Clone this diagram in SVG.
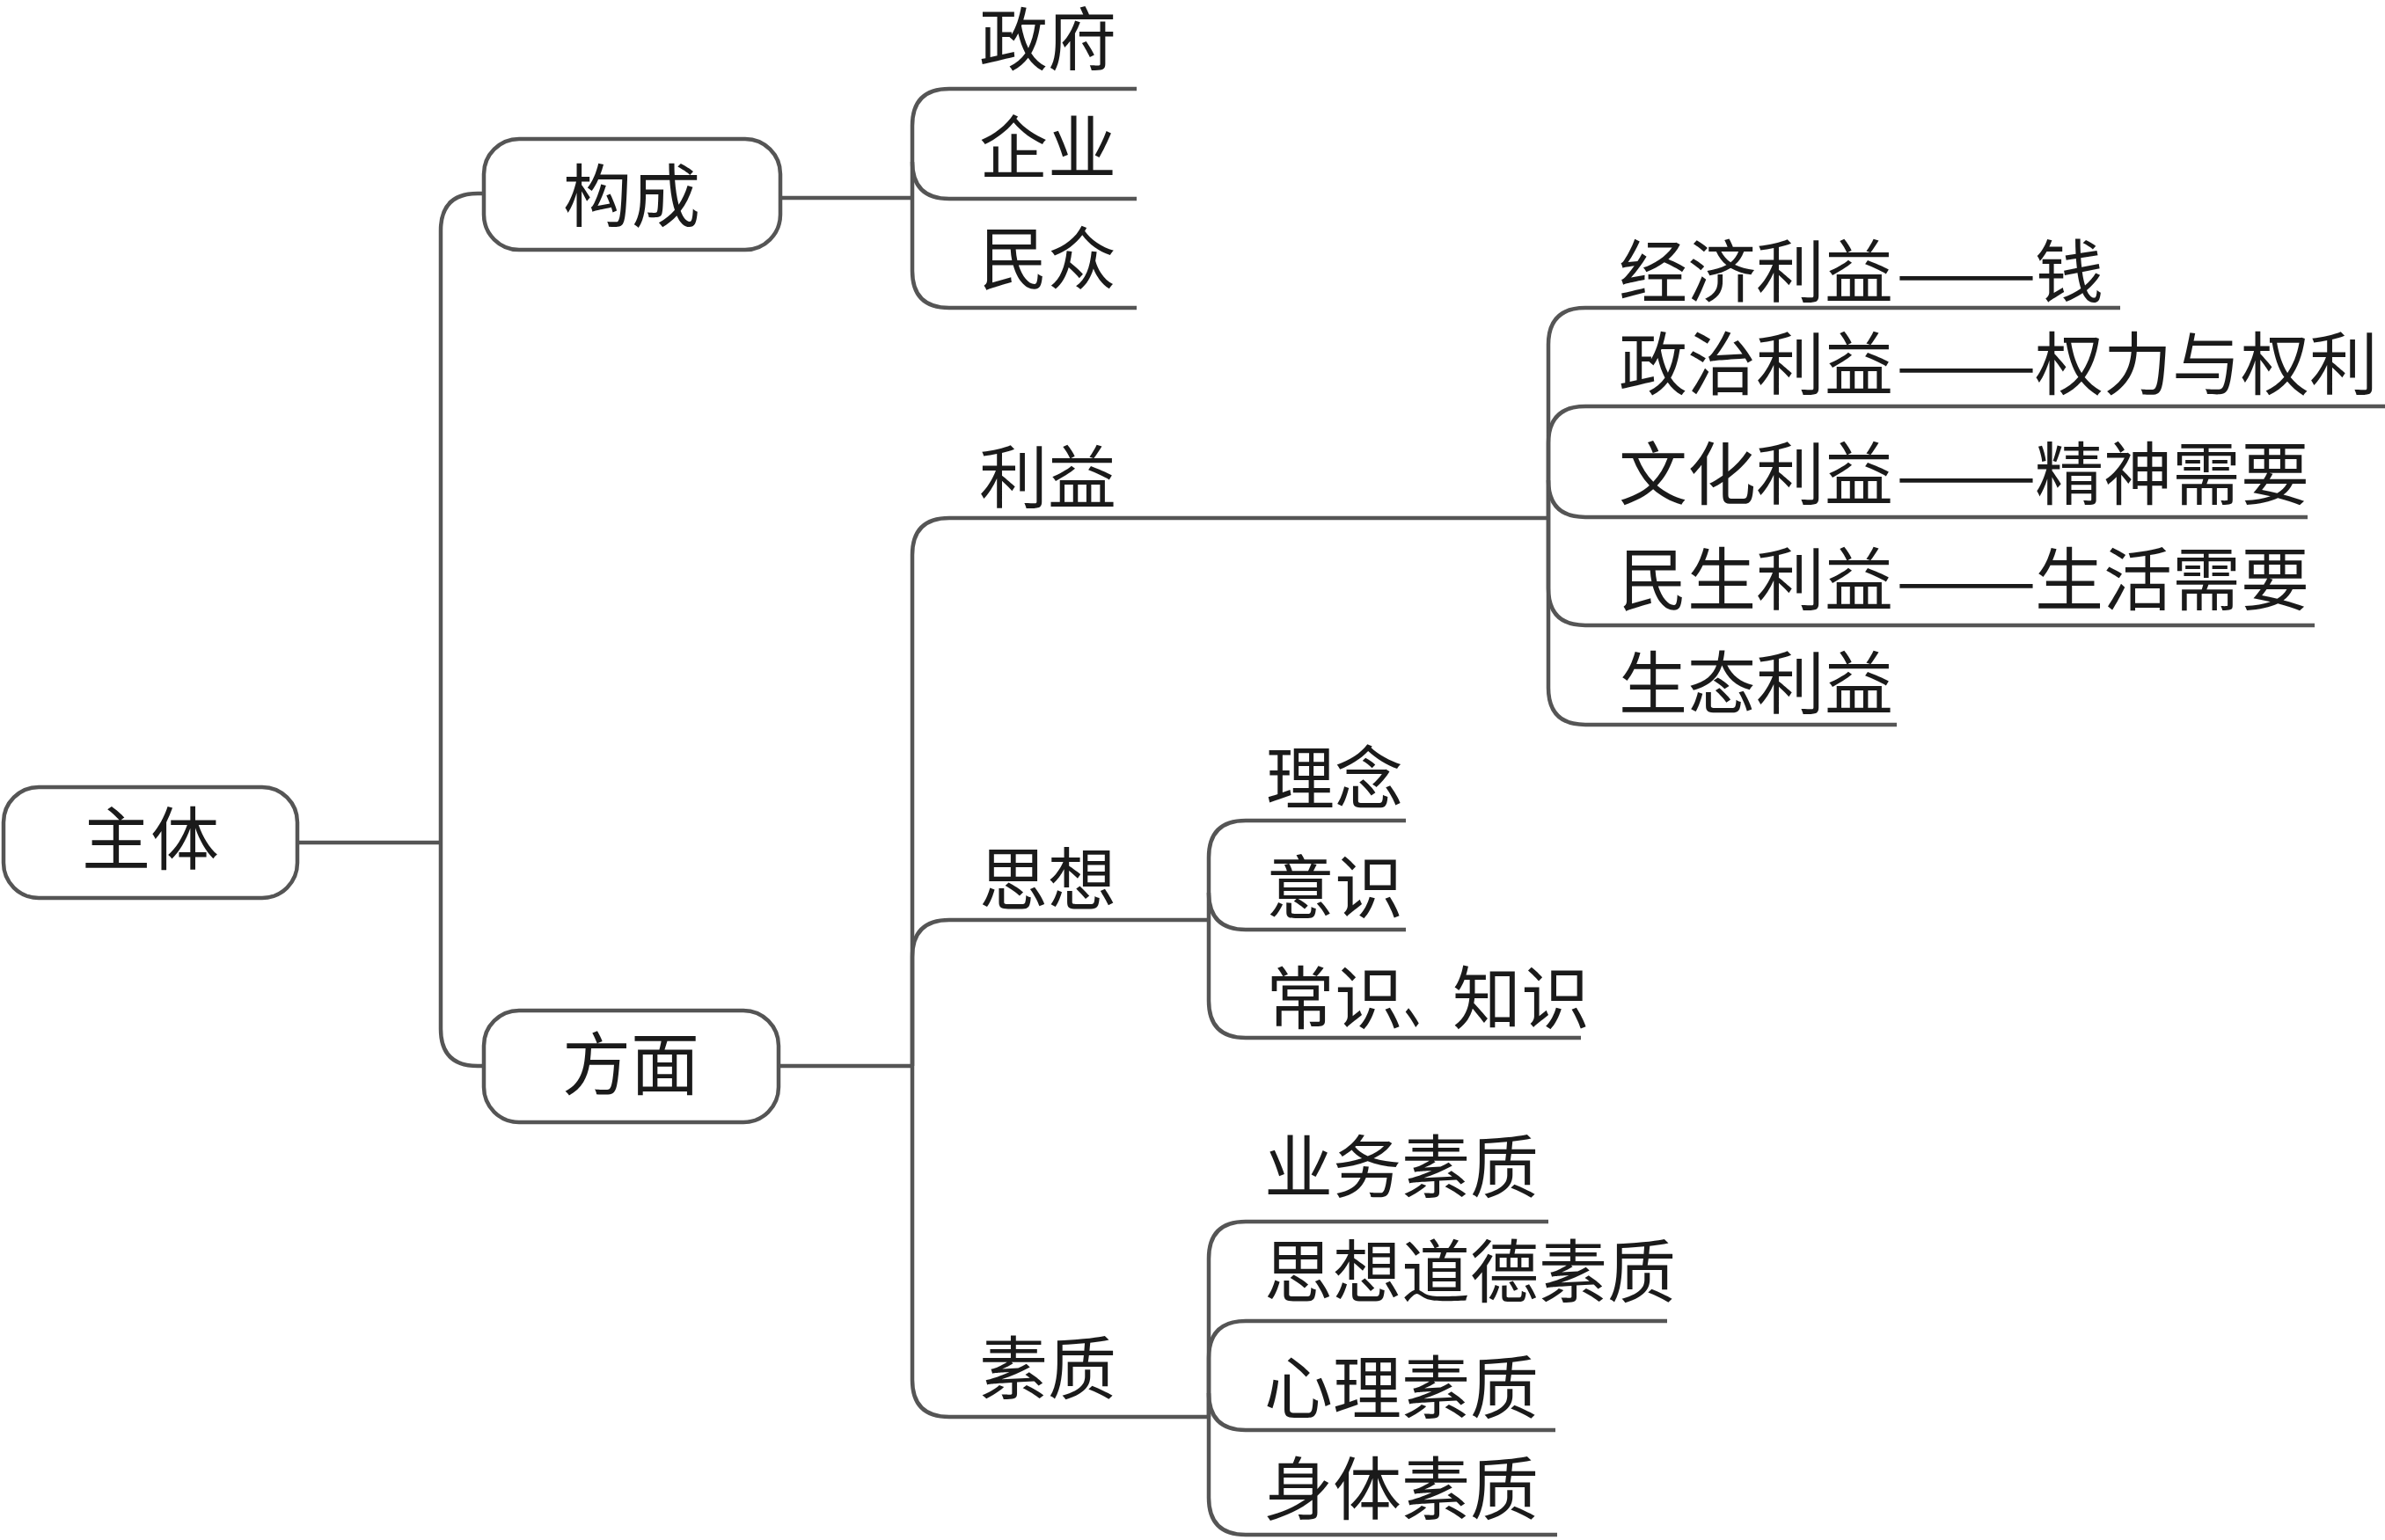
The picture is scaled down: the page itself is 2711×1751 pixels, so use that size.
<svg xmlns="http://www.w3.org/2000/svg" width="2711" height="1751" viewBox="0 0 2711 1751">
<style>
.ln{fill:none;stroke:#555555;stroke-width:4.5;stroke-linecap:butt;stroke-linejoin:round}
.box{fill:#ffffff;stroke:#555555;stroke-width:4.5}
.t{font-family:"Noto Sans CJK SC","Noto Sans CJK JP",sans-serif;font-size:78px;fill:#1a1a1a}
.c{text-anchor:middle}
</style>
<rect width="2711" height="1751" fill="#ffffff"/>
<g id="connectors">
<path class="ln" d="M338,958 H501"/>
<path class="ln" d="M501,958 V262 Q501,220 543,220 H550"/>
<path class="ln" d="M501,958 V1170 Q501,1212 543,1212 H550"/>
<path class="ln" d="M887,225 H1037"/>
<path class="ln" d="M1037,225 V143 Q1037,101 1079,101 H1292"/>
<path class="ln" d="M1037,184 Q1037,226 1079,226 H1292"/>
<path class="ln" d="M1037,225 V308 Q1037,350 1079,350 H1292"/>
<path class="ln" d="M885,1212 H1037"/>
<path class="ln" d="M1037,1212 V631 Q1037,589 1079,589 H1760"/>
<path class="ln" d="M1037,1212 V1088 Q1037,1046 1079,1046 H1374"/>
<path class="ln" d="M1037,1212 V1569 Q1037,1611 1079,1611 H1374"/>
<path class="ln" d="M1760,589 V392 Q1760,350 1802,350 H2410"/>
<path class="ln" d="M1760,589 V504 Q1760,462 1802,462 H2711"/>
<path class="ln" d="M1760,546 Q1760,588 1802,588 H2623"/>
<path class="ln" d="M1760,589 V669 Q1760,711 1802,711 H2631"/>
<path class="ln" d="M1760,589 V782 Q1760,824 1802,824 H2156"/>
<path class="ln" d="M1374,1046 V975 Q1374,933 1416,933 H1598"/>
<path class="ln" d="M1374,1015 Q1374,1057 1416,1057 H1598"/>
<path class="ln" d="M1374,1046 V1138 Q1374,1180 1416,1180 H1797"/>
<path class="ln" d="M1374,1611 V1431 Q1374,1389 1416,1389 H1760"/>
<path class="ln" d="M1374,1611 V1544 Q1374,1502 1416,1502 H1895"/>
<path class="ln" d="M1374,1584 Q1374,1626 1416,1626 H1768"/>
<path class="ln" d="M1374,1611 V1703 Q1374,1745 1416,1745 H1770"/>
</g>
<g id="n-zhuti"><rect class="box" x="4" y="895" width="334" height="126" rx="40"/><text class="t c" x="171" y="983">主体</text></g>
<g id="n-goucheng"><rect class="box" x="550" y="158" width="337" height="126" rx="40"/><text class="t c" x="718" y="252">构成</text></g>
<g id="n-fangmian"><rect class="box" x="550" y="1149" width="335" height="127" rx="40"/><text class="t c" x="717" y="1239">方面</text></g>
<g id="n-zhengfu"><text class="t" x="1113" y="74">政府</text></g>
<g id="n-qiye"><text class="t" x="1113" y="197">企业</text></g>
<g id="n-minzhong"><text class="t" x="1113" y="323">民众</text></g>
<g id="n-liyi"><text class="t" x="1113" y="572">利益</text></g>
<g id="n-sixiang"><text class="t" x="1113" y="1029">思想</text></g>
<g id="n-suzhi"><text class="t" x="1113" y="1585">素质</text></g>
<g id="n-jingji"><text class="t" x="1840" y="338">经济利益<tspan x="2155" textLength="160" lengthAdjust="spacingAndGlyphs">——</tspan><tspan x="2313">钱</tspan></text></g>
<g id="n-zhengzhi"><text class="t" x="1840" y="443">政治利益<tspan x="2155" textLength="160" lengthAdjust="spacingAndGlyphs">——</tspan><tspan x="2313">权力与权利</tspan></text></g>
<g id="n-wenhua"><text class="t" x="1840" y="568">文化利益<tspan x="2155" textLength="160" lengthAdjust="spacingAndGlyphs">——</tspan><tspan x="2313">精神需要</tspan></text></g>
<g id="n-minsheng"><text class="t" x="1840" y="688">民生利益<tspan x="2155" textLength="160" lengthAdjust="spacingAndGlyphs">——</tspan><tspan x="2313">生活需要</tspan></text></g>
<g id="n-shengtai"><text class="t" x="1840" y="806">生态利益</text></g>
<g id="n-linian"><text class="t" x="1439" y="914">理念</text></g>
<g id="n-yishi"><text class="t" x="1439" y="1038">意识</text></g>
<g id="n-changshi"><text class="t" x="1439" y="1164">常识<tspan textLength="52" lengthAdjust="spacingAndGlyphs">、</tspan><tspan x="1651">知识</tspan></text></g>
<g id="n-yewu"><text class="t" x="1437" y="1356">业务素质</text></g>
<g id="n-sxdd"><text class="t" x="1437" y="1475">思想道德素质</text></g>
<g id="n-xinli"><text class="t" x="1437" y="1607">心理素质</text></g>
<g id="n-shenti"><text class="t" x="1437" y="1722">身体素质</text></g>
</svg>
